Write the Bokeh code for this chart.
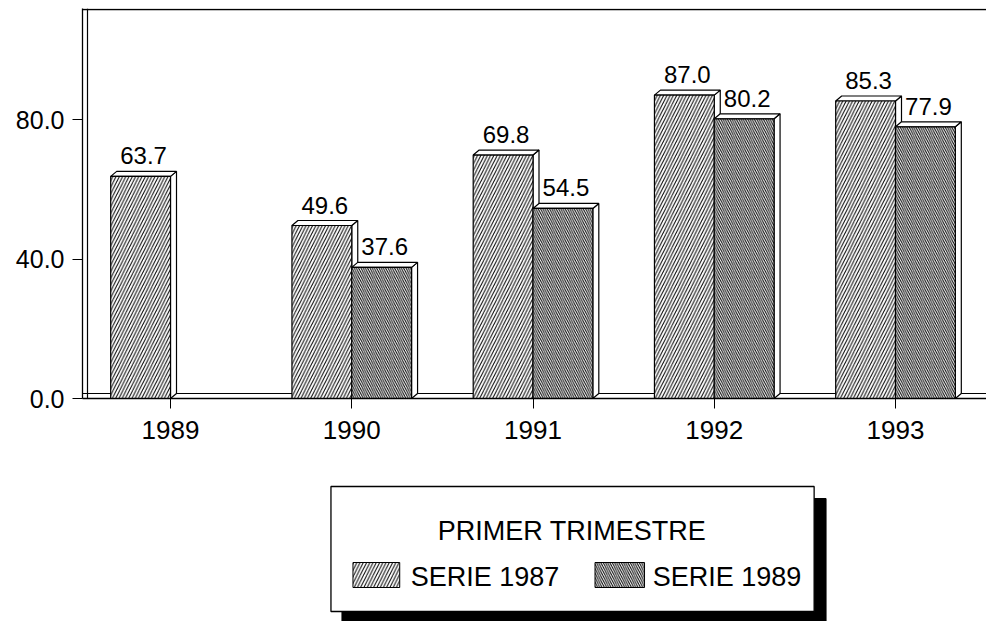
from bokeh.plotting import figure
from bokeh.models import Range1d, FixedTicker, NumeralTickFormatter, Span, ColumnDataSource
from bokeh.layouts import column
from bokeh.core.properties import value
from bokeh.embed import file_html
from bokeh.resources import INLINE

# ---- data ----
years = ["1989", "1990", "1991", "1992", "1993"]
serie_1987 = [63.7, 49.6, 69.8, 87.0, 85.3]
serie_1989 = [None, 37.6, 54.5, 80.2, 77.9]
y_ticks = [0, 40, 80]
legend_title = "PRIMER TRIMESTRE"
series_names = ["SERIE 1987", "SERIE 1989"]

FONT = value("Liberation Sans")

# ---- geometry (styles) ----
PX_X = 181.25          # pixels per category
PX_Y = 3.4875          # pixels per unit
W = 0.33               # bar width (category units)
DX = 6 / PX_X          # 3D depth x
DY = 5 / PX_Y          # 3D depth y
X0 = -88 / PX_X
X1 = X0 + 904 / PX_X
Y1 = 390 / PX_Y

p = figure(width=986, height=458, output_backend="svg", toolbar_location=None,
           x_range=Range1d(X0, X1), y_range=Range1d(0, Y1),
           min_border_left=82, min_border_right=0, min_border_top=8, min_border_bottom=60)
p.outline_line_color = None
p.grid.visible = False
p.background_fill_color = "white"

# frame decorations: top line, inner wall, floor back line (behind the bars)
p.add_layout(Span(location=Y1 - 1.0 / PX_Y, dimension="width", line_color="black", line_width=1.3))
p.add_layout(Span(location=X0 + 5 / PX_X, dimension="height", line_color="black", line_width=1.2,
                  level="underlay"))
p.add_layout(Span(location=DY, dimension="width", line_color="black", line_width=1.2,
                  level="underlay"))


def draw_series(vals, side, hatch, scale):
    xs_idx = [i for i, v in enumerate(vals) if v is not None]
    v = [vals[i] for i in xs_idx]
    left = [i - W if side == 0 else i for i in xs_idx]
    right = [l + W for l in left]
    # side faces
    side_xs = [[r, r, r + DX, r + DX] for r in right]
    side_ys = [[0, val, val + DY, DY] for val in v]
    p.patches(side_xs, side_ys, fill_color="white", line_color="black", line_width=1.2)
    # top faces
    top_xs = [[l, l + DX, r + DX, r] for l, r in zip(left, right)]
    top_ys = [[val, val + DY, val + DY, val] for val in v]
    p.patches(top_xs, top_ys, fill_color="white", line_color="black", line_width=1.2)
    # front faces
    src = ColumnDataSource(dict(left=left, right=right, top=v, bottom=[0] * len(v),
                                cx=[(l + r) / 2 for l, r in zip(left, right)],
                                lab=["%.1f" % val for val in v]))
    p.quad(left="left", right="right", top="top", bottom="bottom", source=src,
           fill_color="white", line_color="black", line_width=1.2,
           hatch_pattern=hatch, hatch_color="black", hatch_scale=scale, hatch_weight=1.0)
    return src


src1 = draw_series(serie_1987, 0, "/", 6.5)
src2 = draw_series(serie_1989, 1, "\\", 4.5)

for src in (src1, src2):
    p.text(x="cx", y="top", text="lab", source=src, text_align="center",
           text_baseline="bottom", x_offset=3, y_offset=-12,
           text_font=FONT, text_font_size="24px", text_color="black")

# axes
p.xaxis.ticker = FixedTicker(ticks=list(range(len(years))))
p.xaxis.major_label_overrides = {i: y for i, y in enumerate(years)}
p.xaxis.major_tick_in = 0
p.xaxis.major_tick_out = 10
p.xaxis.minor_tick_line_color = None
p.xaxis.axis_line_width = 1.3
p.xaxis.major_label_standoff = 12
p.xaxis.major_label_text_font = "Liberation Sans"
p.xaxis.major_label_text_font_size = "26px"
p.xaxis.major_label_text_color = "black"

p.yaxis.ticker = FixedTicker(ticks=y_ticks)
p.yaxis.formatter = NumeralTickFormatter(format="0.0")
p.yaxis.major_tick_in = 0
p.yaxis.major_tick_out = 10
p.yaxis.minor_tick_line_color = None
p.yaxis.axis_line_width = 1.3
p.yaxis.major_label_standoff = 8
p.yaxis.major_label_text_font = "Liberation Sans"
p.yaxis.major_label_text_font_size = "25px"
p.yaxis.major_label_text_color = "black"

# ---- legend panel ----
lg = figure(width=986, height=163, output_backend="svg", toolbar_location=None,
            x_range=Range1d(0, 986), y_range=Range1d(163, 0),
            min_border=0, min_border_left=0, min_border_right=0,
            min_border_top=0, min_border_bottom=0)
lg.axis.visible = False
lg.grid.visible = False
lg.outline_line_color = None

lg.quad(left=[283], right=[811], top=[40], bottom=[163], fill_color="black", line_color="black")
lg.quad(left=[271], right=[798], top=[28], bottom=[153], fill_color="white", line_color="black",
        line_width=1.3)
lg.text(x=[534], y=[72], text=[legend_title], text_align="center", text_baseline="middle",
        text_font=FONT, text_font_size="27px", text_color="black")
lg.quad(left=[295, 559], right=[346, 613], top=[104, 104], bottom=[129, 129],
        fill_color="white", line_color="black", line_width=1,
        hatch_pattern=["/", "\\"], hatch_color="black", hatch_scale=[6.5, 4.5], hatch_weight=1.0)
lg.text(x=[358, 622], y=[118, 118], text=series_names, text_align="left", text_baseline="middle",
        text_font=FONT, text_font_size="27px", text_color="black")

layout = column(p, lg, spacing=0)
open("out.html", "w").write(file_html(layout, INLINE))
